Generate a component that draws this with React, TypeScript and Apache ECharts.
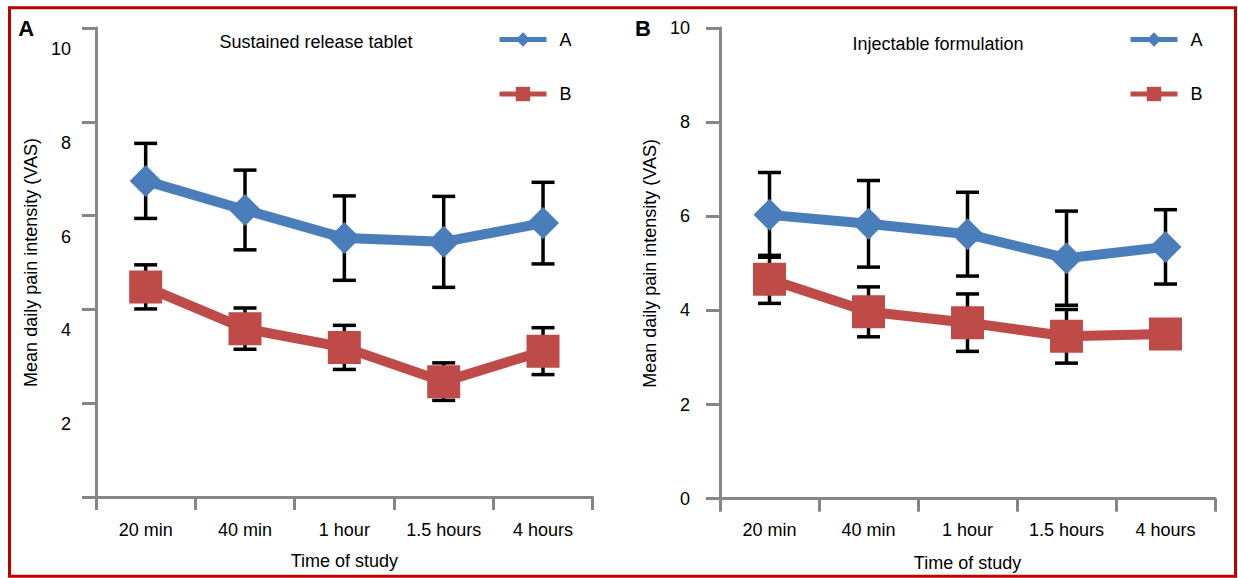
import React, { useEffect, useRef } from "react";
import * as echarts from "echarts";

const categories = ["20 min", "40 min", "1 hour", "1.5 hours", "4 hours"];
const yTicks = [0, 2, 4, 6, 8, 10];

// Panel A: Sustained release tablet
const leftA = [6.74, 6.12, 5.52, 5.44, 5.84];
const leftAErr = [0.8, 0.85, 0.9, 0.97, 0.87];
const leftB = [4.48, 3.59, 3.19, 2.46, 3.11];
const leftBErr = [0.47, 0.44, 0.47, 0.4, 0.5];

// Panel B: Injectable formulation
const rightA = [6.03, 5.84, 5.62, 5.11, 5.35];
const rightAErr = [0.9, 0.92, 0.89, 1.0, 0.79];
const rightB = [4.66, 3.97, 3.74, 3.45, 3.5];
const rightBErr = [0.51, 0.53, 0.61, 0.57, 0.2];

const titles = ["Sustained release tablet", "Injectable formulation"];
const panelLetters = ["A", "B"];
const xName = "Time of study";
const yName = "Mean daily pain intensity (VAS)";

const BLUE = "#4a7ebb";
const RED = "#be4b48";
const AXIS = "#868686";
const FONT = "'Liberation Sans', Arial, sans-serif";

function errData(vals: number[], errs: number[]) {
  return vals.map((v, i) => [i, v - errs[i], v + errs[i]]);
}

const errRender = (params: any, api: any) => {
  const x = api.value(0);
  const lo = api.coord([x, api.value(1)]);
  const hi = api.coord([x, api.value(2)]);
  const w = 11.5;
  const style = { stroke: "#000", lineWidth: 3.5 };
  return {
    type: "group",
    children: [
      { type: "line", shape: { x1: hi[0], y1: hi[1], x2: lo[0], y2: lo[1] }, style },
      { type: "line", shape: { x1: hi[0] - w, y1: hi[1], x2: hi[0] + w, y2: hi[1] }, style },
      { type: "line", shape: { x1: lo[0] - w, y1: lo[1], x2: lo[0] + w, y2: lo[1] }, style },
    ],
  };
};

export default function App() {
  const ref = useRef<HTMLDivElement>(null);
  useEffect(() => {
    if (!ref.current) return;
    const chart = echarts.init(ref.current, undefined, { renderer: "svg" });

    const xAxisBase = (gridIndex: number, labelMargin: number) => ({
      type: "category",
      gridIndex,
      data: categories,
      boundaryGap: true,
      name: xName,
      nameLocation: "middle",
      nameGap: 55,
      nameTextStyle: { color: "#000", fontSize: 18, fontFamily: FONT },
      axisLine: { lineStyle: { color: AXIS, width: 3 } },
      axisTick: { show: true, length: 13, lineStyle: { color: AXIS, width: 3 } },
      axisLabel: { color: "#000", fontSize: 18, fontFamily: FONT, margin: labelMargin, interval: 0 },
      splitLine: { show: false },
    });

    const yAxisBase = (gridIndex: number, labelMargin: number, nameGap: number, shifted: boolean) => ({
      type: "value",
      gridIndex,
      min: yTicks[0],
      max: yTicks[yTicks.length - 1],
      interval: 2,
      name: yName,
      nameLocation: "middle",
      nameGap,
      nameTextStyle: { color: "#000", fontSize: 18, fontFamily: FONT },
      axisLine: { show: true, lineStyle: { color: AXIS, width: 3 } },
      axisTick: { show: true, length: 14, lineStyle: { color: AXIS, width: 3 } },
      axisLabel: shifted
        ? {
            color: "#000",
            fontSize: 18,
            fontFamily: FONT,
            margin: labelMargin,
            verticalAlign: "top",
            lineHeight: 42,
            formatter: (v: number) => (v === 0 ? "" : String(v)),
          }
        : { color: "#000", fontSize: 18, fontFamily: FONT, margin: labelMargin },
      splitLine: { show: false },
    });

    const lineSeries = (name: string, idx: number, data: number[], color: string, symbol: string, size: number) => ({
      type: "line",
      name,
      xAxisIndex: idx,
      yAxisIndex: idx,
      data,
      symbol,
      symbolSize: size,
      lineStyle: { color, width: 10 },
      itemStyle: { color },
      z: 3,
    });

    const errSeries = (name: string, idx: number, vals: number[], errs: number[]) => ({
      type: "custom",
      name,
      xAxisIndex: idx,
      yAxisIndex: idx,
      data: errData(vals, errs),
      encode: { x: 0, y: [1, 2] },
      renderItem: errRender,
      z: 1,
    });

    const legendBase = (left: number) => ({
      data: ["A", "B"],
      orient: "vertical",
      left,
      top: 30.5,
      padding: 0,
      itemWidth: 47,
      itemHeight: 18,
      itemGap: 36.5,
      lineStyle: { width: 5 },
      textStyle: { color: "#000", fontSize: 18, fontFamily: FONT, padding: [0, 0, 0, 8] },
      selectedMode: false,
    });

    chart.setOption({
      animation: false,
      backgroundColor: "#fff",
      grid: [
        { left: 96, top: 28, width: 496.7, height: 469 },
        { left: 720, top: 28, width: 495, height: 470.7 },
      ],
      xAxis: [xAxisBase(0, 24), xAxisBase(1, 22)],
      yAxis: [yAxisBase(0, 25, 56, true), yAxisBase(1, 30, 61, false)],
      legend: [legendBase(497), legendBase(1128)],
      series: [
        errSeries("errLA", 0, leftA, leftAErr),
        errSeries("errLB", 0, leftB, leftBErr),
        lineSeries("A", 0, leftA, BLUE, "diamond", 32),
        lineSeries("B", 0, leftB, RED, "rect", 33),
        errSeries("errRA", 1, rightA, rightAErr),
        errSeries("errRB", 1, rightB, rightBErr),
        lineSeries("A", 1, rightA, BLUE, "diamond", 32),
        lineSeries("B", 1, rightB, RED, "rect", 33),
      ],
      graphic: [
        {
          type: "rect",
          shape: { x: 9.5, y: 7.7, width: 1226, height: 568.6 },
          style: { fill: "none", stroke: "#c00000", lineWidth: 3 },
          z: 10,
        },
        {
          type: "text",
          x: 316,
          y: 42,
          style: { text: titles[0], fill: "#000", font: `18px ${FONT}`, textAlign: "center", textVerticalAlign: "middle" },
        },
        {
          type: "text",
          x: 938,
          y: 44,
          style: { text: titles[1], fill: "#000", font: `18px ${FONT}`, textAlign: "center", textVerticalAlign: "middle" },
        },
        {
          type: "text",
          x: 26.3,
          y: 28.5,
          style: { text: panelLetters[0], fill: "#000", font: `bold 22px ${FONT}`, textAlign: "center", textVerticalAlign: "middle" },
        },
        {
          type: "text",
          x: 643,
          y: 28.5,
          style: { text: panelLetters[1], fill: "#000", font: `bold 22px ${FONT}`, textAlign: "center", textVerticalAlign: "middle" },
        },
      ],
    });
    return () => chart.dispose();
  }, []);
  return (
    <div
      ref={ref}
      style={{ position: "absolute", left: 0, top: 0, width: 1238, height: 578 }}
    />
  );
}
